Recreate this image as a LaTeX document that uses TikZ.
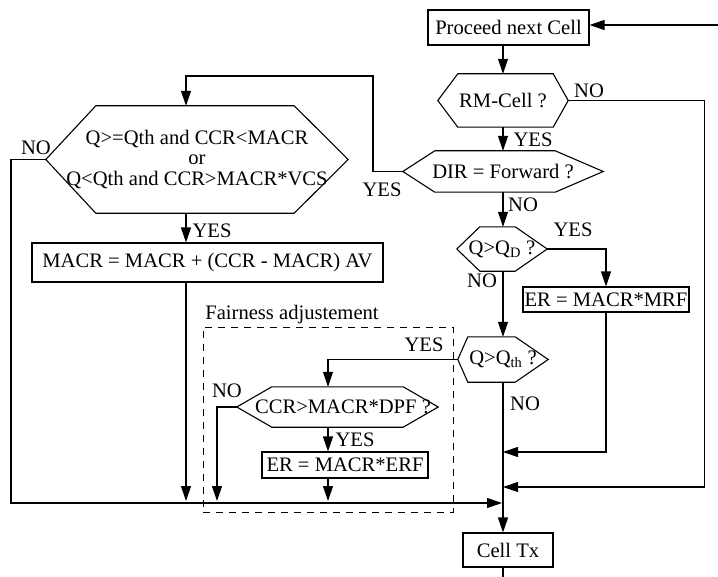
\documentclass[tikz,border=0pt]{standalone}
\usepackage{fontspec}
\setmainfont{Liberation Serif}
\usetikzlibrary{arrows.meta}
\newcommand{\drawhex}[3]{\draw[ln] (#1.west) -- ([xshift=#2]#1.north west) -- ([xshift=-#3]#1.north east) -- (#1.east) -- ([xshift=-#3]#1.south east) -- ([xshift=#2]#1.south west) -- cycle;}
\begin{document}
\begin{tikzpicture}[x=1bp,y=1bp,
  every node/.style={font=\fontsize{20.6bp}{24bp}\selectfont, inner sep=0pt},
  ln/.style={line width=1.1bp},
  box/.style={draw, line width=1.1bp},
  hexn/.style={inner sep=0pt},
  lbl/.style={},
  arr/.style={line width=1.1bp, -{Triangle[length=15bp,width=10bp]}},
  fairbox/.style={draw, line width=1bp, dash pattern=on 7bp off 6bp}]
\useasboundingbox (0,0) rectangle (718,-577);

% column coordinates
\coordinate (colL) at (186,0);
\coordinate (colC) at (328,0);
\coordinate (spine) at (503,0);
\coordinate (jR) at (503,-487);
\coordinate (jM) at (503,-452);
\coordinate (jB) at (502,-503);
\coordinate (jA) at (0,-501);
\coordinate (jLeft) at (11,-503);
\coordinate (jN) at (217,-501);
\coordinate (rin) at (718,-25);
\coordinate (bot) at (503,-577);
\coordinate (cUp) at (373,-76);

% dashed fairness box
\node[fairbox, minimum width=250bp, minimum height=185bp] (fair) at (328,-419.5) {};
\node[lbl] (fairlbl) at (292,-315) {Fairness adjustement};

% boxes
\node[box, minimum width=161bp, minimum height=35bp] (proceed) at (508.5,-27.5) {Proceed next Cell};
\node[box, minimum width=351bp, minimum height=39bp] (macr) at (207.5,-262.5) {MACR = MACR + (CCR - MACR) AV};
\node[box, minimum width=166bp, minimum height=25bp] (mrf) at (606,-299.5) {ER = MACR*MRF};
\node[box, minimum width=166bp, minimum height=26bp] (erf) at (345,-465) {ER = MACR*ERF};
\node[box, minimum width=90bp, minimum height=34bp] (tx) at (508,-550) {Cell Tx};

% hexagons
\node[hexn, minimum width=130bp, minimum height=53bp] (rm) at (503,-100.5) {RM-Cell ?};
\drawhex{rm}{20bp}{15bp}
\node[hexn, minimum width=200bp, minimum height=41bp] (dir) at (503,-171.5) {DIR = Forward ?};
\drawhex{dir}{32bp}{48bp}
\node[hexn, minimum width=90bp, minimum height=44bp] (qd) at (502,-249) {Q>Q\textsubscript{D} ?};
\drawhex{qd}{23bp}{32bp}
\node[hexn, minimum width=90bp, minimum height=45bp] (qth) at (503,-359.5) {Q>Q\textsubscript{th} ?};
\drawhex{qth}{10bp}{33bp}
\node[hexn, minimum width=302bp, minimum height=107bp, align=center, font=\fontsize{20.6bp}{20.5bp}\selectfont] (big) at (197,-159.5) {Q>=Qth and CCR<MACR\\or\\Q<Qth and CCR>MACR*VCS};
\drawhex{big}{50bp}{54bp}
\node[hexn, minimum width=201bp, minimum height=40bp] (ccr) at (337.5,-407) {\hspace{11bp}CCR>MACR*DPF ?};
\drawhex{ccr}{35bp}{35bp}

% labels
\node[lbl] (lno1) at (589,-91) {NO};
\node[lbl] (lyes1) at (533,-140) {YES};
\node[lbl] (lyes2) at (382,-190) {YES};
\node[lbl] (lno2) at (523,-205) {NO};
\node[lbl] (lyes3) at (573,-230) {YES};
\node[lbl] (lno3) at (482,-281) {NO};
\node[lbl] (lyes4) at (424,-345) {YES};
\node[lbl] (lno4) at (525,-404) {NO};
\node[lbl] (lno5) at (227,-391) {NO};
\node[lbl] (lyes5) at (355,-440) {YES};
\node[lbl] (lno6) at (36,-148) {NO};
\node[lbl] (lyes6) at (212,-231) {YES};

% connectors
\draw[arr] (rin) -- (rin -| proceed.east);
\draw[arr] (proceed.south -| rm.north) -- (rm.north);
\draw[arr] (rm.south) -- (dir.north);
\draw[arr] (rm.east) -- ++(136,0) |- (jR);
\draw[arr] (dir.west) -| (cUp) -| (big.north -| colL);
\draw[arr] (dir.south) -- (dir.south |- qd.north);
\draw[arr] (qd.east) -| (mrf.north);
\draw[arr] (qd.south -| spine) -- (qth.north -| spine);
\draw[arr] (mrf.south) |- (jM);
\draw[arr] (qth.west) -| (ccr.north -| colC);
\draw[arr] (qth.south -| spine) -- (tx.north -| spine);
\draw[ln] (tx.south -| spine) -- (bot);
\draw[arr] (ccr.west) -| (jN);
\draw[arr] (ccr.south -| colC) -- (erf.north -| colC);
\draw[arr] (erf.south -| colC) -- (colC |- jA);
\draw[arr] (big.south -| colL) -- (macr.north -| colL);
\draw[arr] (macr.south -| colL) -- (colL |- jA);
\draw[arr] (big.west) -| (jLeft) -- (jB);
\end{tikzpicture}
\end{document}
